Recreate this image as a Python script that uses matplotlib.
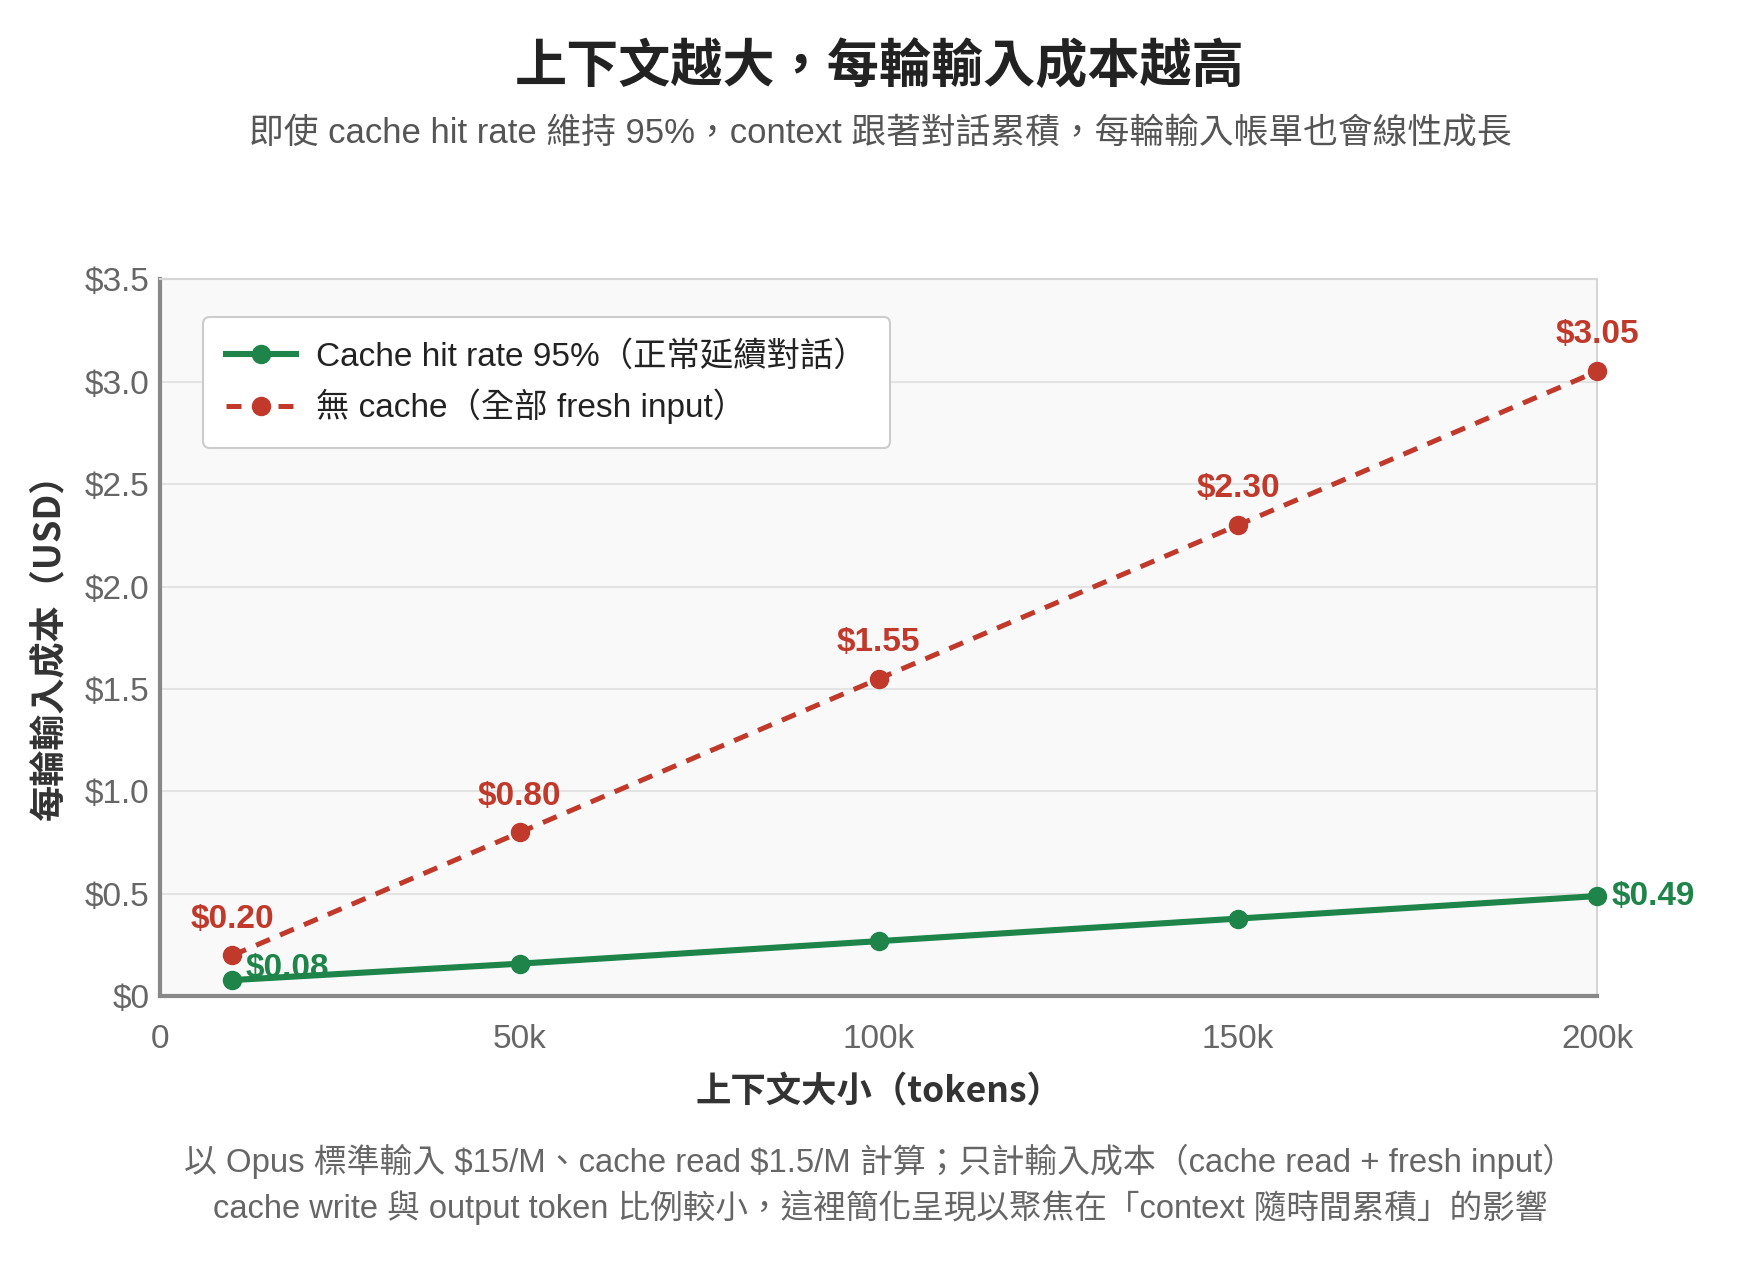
import numpy as np
import matplotlib.pyplot as plt
from matplotlib.ticker import FuncFormatter

FONTS = ['Liberation Sans', 'Noto Sans CJK TC', 'DejaVu Sans']
plt.rcParams['font.family'] = FONTS

# data
tokens = [10_000, 50_000, 100_000, 150_000, 200_000]
cached_cost = [0.08, 0.16, 0.27, 0.38, 0.49]
fresh_cost = [0.20, 0.80, 1.55, 2.30, 3.05]
y_ticks = [0, 0.5, 1.0, 1.5, 2.0, 2.5, 3.0, 3.5]
x_ticks = [0, 50_000, 100_000, 150_000, 200_000]
x_tick_labels = ["0", "50k", "100k", "150k", "200k"]

GREEN = "#1e8449"
RED = "#c0392b"
CJK_BOLD = ['Noto Sans CJK TC', 'DejaVu Sans']

fig = plt.figure(figsize=(17.6, 12.8), dpi=100)
ax = fig.add_axes([0.0911, 0.2215, 0.8165, 0.5605])
ax.set_facecolor("#f9f9f9")

ax.plot(tokens, cached_cost, color=GREEN, linewidth=4.4, marker="o", markersize=13,
        label="Cache hit rate 95%（正常延續對話）", zorder=3, clip_on=False)
ax.plot(tokens, fresh_cost, color=RED, linewidth=3.6, linestyle=(0, (3, 2.2)), marker="o",
        markersize=13, label="無 cache（全部 fresh input）", zorder=3, clip_on=False)

# value labels
for x, y in zip(tokens, fresh_cost):
    ax.annotate(f"${y:.2f}", (x, y), xytext=(0, 15), textcoords="offset points",
                ha="center", va="bottom", color=RED, fontsize=24, fontweight="semibold")
ax.annotate(f"${cached_cost[0]:.2f}", (tokens[0], cached_cost[0]), xytext=(10, -3),
            textcoords="offset points", ha="left", va="bottom", color=GREEN,
            fontsize=24, fontweight="semibold")
ax.annotate(f"${cached_cost[-1]:.2f}", (tokens[-1], cached_cost[-1]), xytext=(10, 0),
            textcoords="offset points", ha="left", va="center", color=GREEN,
            fontsize=24, fontweight="semibold", annotation_clip=False)

ax.set_xlim(0, 200_000)
ax.set_ylim(0, 3.5)
ax.set_xticks(x_ticks)
ax.set_xticklabels(x_tick_labels)
ax.set_yticks(y_ticks)
ax.yaxis.set_major_formatter(FuncFormatter(lambda v, p: "$0" if v == 0 else f"${v:.1f}"))
ax.tick_params(axis="both", length=0, labelsize=24, labelcolor="#666666")
ax.tick_params(axis="x", pad=20)
ax.tick_params(axis="y", pad=8)
ax.grid(axis="y", color="#e3e3e3", linewidth=1.5)
ax.set_axisbelow(True)

for side in ("left", "bottom"):
    ax.spines[side].set_color("#888888")
    ax.spines[side].set_linewidth(3)
for side in ("top", "right"):
    ax.spines[side].set_color("#d6d6d6")
    ax.spines[side].set_linewidth(1.5)

ax.set_xlabel("上下文大小（tokens）", fontsize=25.5, fontweight="bold", color="#333333",
              labelpad=14, family=CJK_BOLD)
ax.set_ylabel("每輪輸入成本（USD）", fontsize=26, fontweight="bold", color="#333333",
              labelpad=12, family=CJK_BOLD)

leg = ax.legend(loc="upper left", bbox_to_anchor=(0.018, 0.97), frameon=True,
                fancybox=True, borderpad=0.7, labelspacing=0.5, handlelength=2.1,
                handletextpad=0.6, prop={'family': FONTS, 'size': 24})
leg.get_frame().set_edgecolor("#cccccc")
leg.get_frame().set_linewidth(1.5)
leg.get_frame().set_facecolor("white")
leg.get_frame().set_alpha(1.0)
for t in leg.get_texts():
    t.set_color("#222222")

fig.text(0.5, 0.948, "上下文越大，每輪輸入成本越高", ha="center", va="center",
         fontsize=37.5, fontweight="bold", color="#222222", family=CJK_BOLD)
fig.text(0.5, 0.895, "即使 cache hit rate 維持 95%，context 跟著對話累積，每輪輸入帳單也會線性成長",
         ha="center", va="center", fontsize=25, color="#555555")
fig.text(0.5, 0.093, r"以 Opus 標準輸入 \$15/M、cache read \$1.5/M 計算；只計輸入成本（cache read + fresh input）",
         ha="center", va="center", fontsize=23.7, color="#666666")
fig.text(0.5, 0.057, "cache write 與 output token 比例較小，這裡簡化呈現以聚焦在「context 隨時間累積」的影響",
         ha="center", va="center", fontsize=23.5, color="#666666")

fig.savefig("out.png", dpi=100, facecolor="white")
